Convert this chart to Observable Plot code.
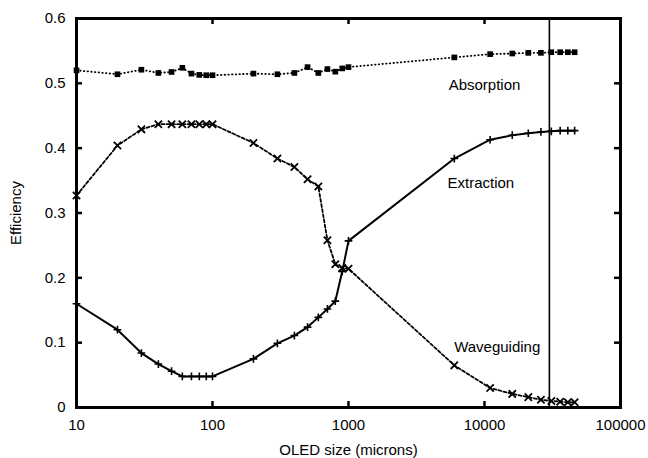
<!DOCTYPE html>
<html>
<head>
<meta charset="utf-8">
<script src="https://cdn.jsdelivr.net/npm/d3@7"></script>
<script src="https://cdn.jsdelivr.net/npm/@observablehq/plot@0.6"></script>
<style>
  html, body { margin: 0; padding: 0; background: #fff; }
  #chart svg { display: block; }
</style>
</head>
<body>
<div id="chart"></div>
<script>
// OLED size (microns)
const sizes = [10, 20, 30, 40, 50, 60, 70, 80, 90, 100,
  200, 300, 400, 500, 600, 700, 800, 900, 1000,
  6000, 11000, 16000, 21000, 26000, 31000, 36000, 41000, 46000];

const absorption = [0.520, 0.514, 0.521, 0.516, 0.5175, 0.524, 0.515, 0.513, 0.5125, 0.5125,
  0.515, 0.514, 0.516, 0.525, 0.516, 0.522, 0.518, 0.523, 0.525,
  0.540, 0.545, 0.546, 0.547, 0.547, 0.548, 0.548, 0.548, 0.548];

const extraction = [0.160, 0.120, 0.084, 0.067, 0.056, 0.048, 0.048, 0.048, 0.048, 0.048,
  0.075, 0.099, 0.111, 0.124, 0.139, 0.152, 0.164, 0.210, 0.257,
  0.384, 0.413, 0.420, 0.423, 0.425, 0.426, 0.427, 0.427, 0.427];

const waveguiding = [0.327, 0.404, 0.429, 0.437, 0.437, 0.437, 0.437, 0.437, 0.437, 0.437,
  0.408, 0.384, 0.371, 0.352, 0.341, 0.258, 0.221, 0.215, 0.214,
  0.065, 0.030, 0.021, 0.016, 0.012, 0.010, 0.009, 0.008, 0.008];

const seriesNames = ["Absorption", "Extraction", "Waveguiding"];
// annotation anchor points (data units)
const labelSizes = [10000, 9400, 12400];
const labelValues = [0.497, 0.346, 0.093];

const cutoff = 30000;

const xDomain = [10, 100000];
const yDomain = [0, 0.6];
const xTicks = [10, 100, 1000, 10000, 100000];
const xTickLabels = ["10", "100", "1000", "10000", "100000"];
const yTicks = [0, 0.1, 0.2, 0.3, 0.4, 0.5, 0.6];
const yTickLabels = ["0", "0.1", "0.2", "0.3", "0.4", "0.5", "0.6"];

const rows = (vals) => sizes.map((s, i) => ({size: s, value: vals[i]}));
const absRows = rows(absorption);
const extRows = rows(extraction);
const wavRows = rows(waveguiding);
const labelRows = seriesNames.map((n, i) => ({name: n, size: labelSizes[i], value: labelValues[i]}));

const fmtX = d => xTickLabels[xTicks.indexOf(d)];
const fmtY = d => yTickLabels[yTicks.findIndex(t => Math.abs(t - d) < 1e-9)];

const W = 648, H = 458, mT = 18, mR = 28, mB = 51, mL = 76;
const tickLen = 6;
const innerH = H - mT - mB, innerW = W - mL - mR;
// tick length expressed in each scale's units (inward ticks, gnuplot style)
const yTickSpan = (yDomain[1] - yDomain[0]) * tickLen / innerH;
const xTickFactor = Math.pow(xDomain[1] / xDomain[0], tickLen / innerW);

const chart = Plot.plot({
  width: W,
  height: H,
  marginTop: mT,
  marginRight: mR,
  marginBottom: mB,
  marginLeft: mL,
  style: {fontFamily: "'Liberation Sans', Arial, sans-serif", fontSize: "15px", color: "#000", background: "#fff"},
  x: {type: "log", domain: xDomain},
  y: {domain: yDomain},
  marks: [
    // tick labels and titles
    Plot.axisX({ticks: xTicks, tickFormat: fmtX, tickSize: 0, tickPadding: 12, fontSize: 15,
      label: "OLED size (microns)", labelAnchor: "center", labelArrow: "none", labelOffset: 47}),
    Plot.axisY({ticks: yTicks, tickFormat: fmtY, tickSize: 0, tickPadding: 11, fontSize: 15,
      label: "Efficiency", labelAnchor: "center", labelArrow: "none", labelOffset: 66}),
    // inward ticks on all four sides
    Plot.ruleX(xTicks, {x: d => d, y1: yDomain[0], y2: yDomain[0] + yTickSpan, stroke: "#000", strokeWidth: 2.5}),
    Plot.ruleX(xTicks, {x: d => d, y1: yDomain[1] - yTickSpan, y2: yDomain[1], stroke: "#000", strokeWidth: 2.5}),
    Plot.ruleY(yTicks, {y: d => d, x1: xDomain[0], x2: xDomain[0] * xTickFactor, stroke: "#000", strokeWidth: 2.5}),
    Plot.ruleY(yTicks, {y: d => d, x1: xDomain[1] / xTickFactor, x2: xDomain[1], stroke: "#000", strokeWidth: 2.5}),
    // cutoff line
    Plot.ruleX([cutoff], {stroke: "#000", strokeWidth: 1.6}),
    // Absorption: dotted with squares
    Plot.line(absRows, {x: "size", y: "value", stroke: "#000", strokeWidth: 1.8, strokeDasharray: "0.5,3.2", strokeLinecap: "round"}),
    Plot.dot(absRows, {x: "size", y: "value", symbol: "square", fill: "#000", r: 3.2}),
    // Extraction: solid with plus markers
    Plot.line(extRows, {x: "size", y: "value", stroke: "#000", strokeWidth: 2}),
    Plot.dot(extRows, {x: "size", y: "value", symbol: "plus", stroke: "#000", strokeWidth: 1.6, r: 2.6}),
    // Waveguiding: dashed with x markers
    Plot.line(wavRows, {x: "size", y: "value", stroke: "#000", strokeWidth: 1.8, strokeDasharray: "3,2.2"}),
    Plot.dot(wavRows, {x: "size", y: "value", symbol: "times", stroke: "#000", strokeWidth: 1.8, r: 3.4}),
    // series annotations
    Plot.text(labelRows, {x: "size", y: "value", text: "name", fill: "#000", fontSize: 15, textAnchor: "middle"}),
    Plot.frame({stroke: "#000", strokeWidth: 3})
  ]
});
document.getElementById("chart").appendChild(chart);
</script>
</body>
</html>
